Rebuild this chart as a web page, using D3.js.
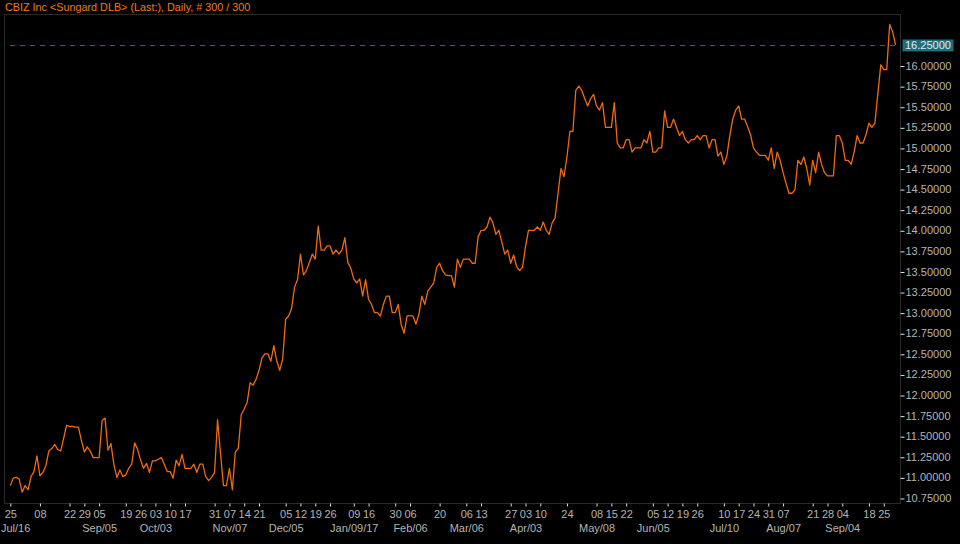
<!DOCTYPE html>
<html>
<head>
<meta charset="utf-8">
<script src="https://cdn.jsdelivr.net/npm/d3@7"></script>
<style>
  html, body { margin: 0; padding: 0; background: #000; }
  svg { display: block; }
  text { font-family: "Liberation Sans", Arial, sans-serif; }
</style>
</head>
<body>
<svg id="chart" width="960" height="544"></svg>
<script>
const title = "CBIZ Inc <Sungard DLB> (Last:), Daily, # 300 / 300";

const prices = [
10.90,10.99,11.00,10.98,10.82,10.90,10.85,11.01,11.07,11.26,
11.02,11.06,11.14,11.32,11.35,11.40,11.34,11.32,11.47,11.63,
11.62,11.62,11.61,11.61,11.45,11.31,11.37,11.32,11.24,11.24,
11.24,11.69,11.72,11.33,11.41,11.15,11.00,11.09,11.01,11.03,
11.11,11.16,11.42,11.34,11.21,11.11,11.17,11.06,11.20,11.20,
11.22,11.24,11.16,11.07,11.07,10.99,11.21,11.14,11.28,11.11,
11.11,11.11,11.16,11.06,11.16,11.16,11.01,10.96,11.00,11.06,
11.70,11.29,10.90,10.90,11.11,10.85,11.31,11.35,11.76,11.83,
11.91,12.15,12.12,12.19,12.30,12.45,12.50,12.50,12.41,12.60,
12.41,12.30,12.44,12.92,12.96,13.05,13.31,13.40,13.71,13.46,
13.51,13.61,13.71,13.65,14.05,13.76,13.76,13.81,13.81,13.71,
13.76,13.71,13.76,13.91,13.61,13.54,13.41,13.36,13.41,13.20,
13.40,13.16,13.10,13.00,13.00,12.96,13.10,13.20,13.20,13.00,
13.00,13.10,12.86,12.75,12.96,12.96,12.96,12.86,12.98,13.20,
13.10,13.26,13.31,13.36,13.55,13.60,13.51,13.46,13.45,13.45,
13.31,13.65,13.55,13.65,13.65,13.65,13.60,13.60,13.92,14.00,
14.00,14.04,14.16,14.09,13.95,14.00,13.86,13.71,13.76,13.60,
13.70,13.56,13.51,13.55,13.80,14.00,14.00,14.00,14.04,14.00,
14.10,14.00,13.95,14.09,14.15,14.45,14.75,14.65,14.89,15.20,
15.20,15.70,15.75,15.70,15.60,15.51,15.60,15.65,15.51,15.46,
15.55,15.25,15.25,15.25,15.55,15.06,15.00,15.00,15.10,15.10,
14.95,15.00,15.00,15.00,15.10,15.06,15.20,14.95,14.95,15.00,
15.00,15.45,15.25,15.25,15.35,15.25,15.15,15.20,15.10,15.06,
15.10,15.10,15.15,15.10,15.15,15.15,15.00,15.10,15.10,14.90,
14.95,14.80,14.90,15.15,15.35,15.46,15.51,15.35,15.35,15.26,
15.16,15.00,14.95,14.91,14.91,14.91,14.85,15.00,14.75,14.95,
14.85,14.70,14.57,14.45,14.45,14.49,14.85,14.80,14.89,14.75,
14.55,14.85,14.70,14.95,14.80,14.70,14.66,14.66,14.66,15.15,
15.15,15.06,14.85,14.85,14.80,14.95,15.15,15.06,15.06,15.16,
15.30,15.25,15.30,15.66,16.01,15.95,15.95,16.50,16.41,16.25
];

const lastValue = 16.25;

const dayTickIndex = [0,10,20,25,30,39,44,49,54,59,69,74,79,84,93,98,103,108,116,121,130,135,145,154,159,169,174,179,188,198,203,208,217,222,227,232,241,246,251,256,261,271,276,281,290,295];
const dayTickLabel = ["25","08","22","29","05","19","26","03","10","17","31","07","14","21","05","12","19","26","09","16","30","06","20","06","13","27","03","10","24","08","15","22","05","12","19","26","10","17","24","31","07","21","28","04","18","25"];

const monthTickIndex = [0,30,49,74,93,116,135,154,174,198,217,241,261,281];
const monthTickLabel = ["Jul/16","Sep/05","Oct/03","Nov/07","Dec/05","Jan/09/17","Feb/06","Mar/06","Apr/03","May/08","Jun/05","Jul/10","Aug/07","Sep/04"];

const yTickValues = [10.75,11.00,11.25,11.50,11.75,12.00,12.25,12.50,12.75,13.00,13.25,13.50,13.75,14.00,14.25,14.50,14.75,15.00,15.25,15.50,15.75,16.00];

// ---- layout
const frame = {left: 4.5, top: 14.5, right: 900.5, bottom: 503.5};
const svg = d3.select("#chart");
svg.append("rect").attr("width", 960).attr("height", 544).attr("fill", "#000");

const x = d3.scaleLinear().domain([0, prices.length - 1]).range([10.3, 895.6]);
const y = d3.scaleLinear().domain([10.689, 16.626]).range([503, 14]);

// frame
svg.append("rect")
  .attr("x", frame.left).attr("y", frame.top)
  .attr("width", frame.right - frame.left).attr("height", frame.bottom - frame.top)
  .attr("fill", "none").attr("stroke", "#2a2a2a").attr("stroke-width", 1);

// title
svg.append("text").attr("x", 5).attr("y", 11)
  .attr("fill", "#f07a1e").attr("font-size", "10.8px").text(title);

// last value dashed line
svg.append("line")
  .attr("x1", 10).attr("x2", frame.right - 1)
  .attr("y1", Math.round(y(lastValue)) + 0.5).attr("y2", Math.round(y(lastValue)) + 0.5)
  .attr("stroke", "#1f6f7c").attr("stroke-width", 1).attr("stroke-dasharray", "5,5");

// price line
const line = d3.line().x((d, i) => x(i)).y(d => y(d));
svg.append("path").datum(prices)
  .attr("d", line).attr("fill", "none")
  .attr("stroke", "#f06a0f").attr("stroke-width", 1.3)
  .attr("stroke-linejoin", "round");

// y axis on the right
const yAxis = d3.axisRight(y).tickValues(yTickValues).tickFormat(d3.format(".5f"))
  .tickSize(4).tickPadding(1);
const gy = svg.append("g").attr("transform", `translate(${frame.right},0)`).call(yAxis);
gy.select(".domain").remove();
gy.selectAll(".tick line").attr("stroke", "#e0e0e0").attr("transform", "translate(0,0.5)");
gy.selectAll(".tick text").attr("fill", "#b4b4b4").attr("font-size", "11px")
  .attr("font-family", "'Liberation Sans', Arial, sans-serif");

// highlighted last value label
const ly = y(lastValue);
svg.append("rect").attr("x", 902.5).attr("y", ly - 5.5).attr("width", 51).attr("height", 12)
  .attr("fill", "#1c6e7c");
svg.append("text").attr("x", 905).attr("y", ly + 4.5)
  .attr("fill", "#e8e8e8").attr("font-size", "11px")
  .text(d3.format(".5f")(lastValue));

// x axis: day ticks
const xAxis = d3.axisBottom(x).tickValues(dayTickIndex)
  .tickFormat((d, i) => dayTickLabel[i]).tickSize(3).tickPadding(4);
const gx = svg.append("g").attr("transform", `translate(0,${frame.bottom})`).call(xAxis);
gx.select(".domain").remove();
gx.selectAll(".tick line").attr("stroke", "#e0e0e0");
gx.selectAll(".tick text").attr("fill", "#b4b4b4").attr("font-size", "11px")
  .attr("font-family", "'Liberation Sans', Arial, sans-serif");

// x axis: month labels
const monthAxis = d3.axisBottom(x).tickValues(monthTickIndex)
  .tickFormat((d, i) => monthTickLabel[i]).tickSize(0).tickPadding(21);
const gm = svg.append("g").attr("transform", `translate(0,${frame.bottom})`).call(monthAxis);
gm.select(".domain").remove();
gm.selectAll(".tick text").attr("fill", "#b4b4b4").attr("font-size", "11px")
  .attr("font-family", "'Liberation Sans', Arial, sans-serif");
// keep the first month label inside the picture
gm.selectAll(".tick text").filter((d, i) => i === 0)
  .attr("text-anchor", "start").attr("x", 0.5 - x(monthTickIndex[0]));
</script>
</body>
</html>
